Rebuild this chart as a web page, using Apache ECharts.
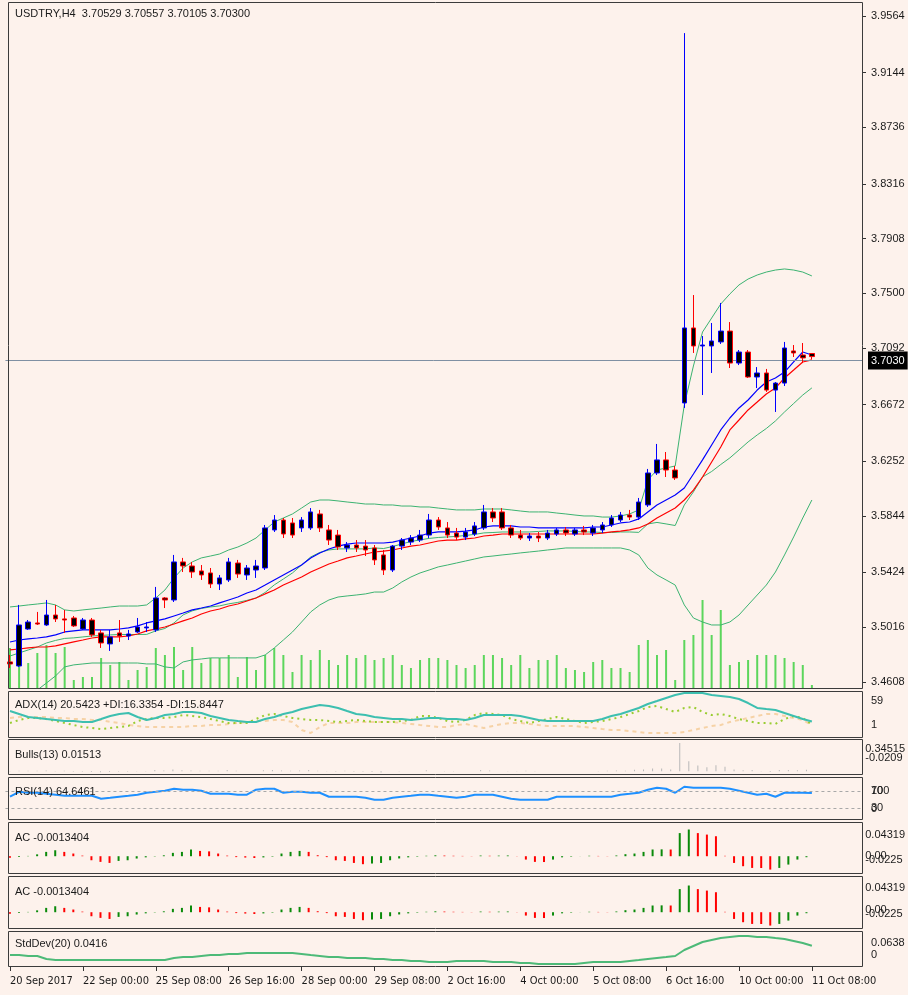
<!DOCTYPE html>
<html><head><meta charset="utf-8">
<script src="https://cdn.jsdelivr.net/npm/echarts@6/dist/echarts.min.js"></script>
<style>html,body{margin:0;padding:0;background:#FDF2EC;}#c{width:908px;height:995px;}</style>
</head><body><div id="c"></div>
<script>
// ---------- DATA ----------
const categories = [
"20 Sep 16:00","20 Sep 20:00",
"21 Sep 00:00","21 Sep 04:00","21 Sep 08:00","21 Sep 12:00","21 Sep 16:00","21 Sep 20:00",
"22 Sep 00:00","22 Sep 04:00","22 Sep 08:00","22 Sep 12:00","22 Sep 16:00","22 Sep 20:00",
"25 Sep 00:00","25 Sep 04:00","25 Sep 08:00","25 Sep 12:00","25 Sep 16:00","25 Sep 20:00",
"26 Sep 00:00","26 Sep 04:00","26 Sep 08:00","26 Sep 12:00","26 Sep 16:00","26 Sep 20:00",
"27 Sep 00:00","27 Sep 04:00","27 Sep 08:00","27 Sep 12:00","27 Sep 16:00","27 Sep 20:00",
"28 Sep 00:00","28 Sep 04:00","28 Sep 08:00","28 Sep 12:00","28 Sep 16:00","28 Sep 20:00",
"29 Sep 00:00","29 Sep 04:00","29 Sep 08:00","29 Sep 12:00","29 Sep 16:00","29 Sep 20:00",
"2 Oct 00:00","2 Oct 04:00","2 Oct 08:00","2 Oct 12:00","2 Oct 16:00","2 Oct 20:00",
"3 Oct 00:00","3 Oct 04:00","3 Oct 08:00","3 Oct 12:00","3 Oct 16:00","3 Oct 20:00",
"4 Oct 00:00","4 Oct 04:00","4 Oct 08:00","4 Oct 12:00","4 Oct 16:00","4 Oct 20:00",
"5 Oct 00:00","5 Oct 04:00","5 Oct 08:00","5 Oct 12:00","5 Oct 16:00","5 Oct 20:00",
"6 Oct 00:00","6 Oct 04:00","6 Oct 08:00","6 Oct 12:00","6 Oct 16:00","6 Oct 20:00",
"9 Oct 00:00","9 Oct 04:00","9 Oct 08:00","9 Oct 12:00","9 Oct 16:00","9 Oct 20:00",
"10 Oct 00:00","10 Oct 04:00","10 Oct 08:00","10 Oct 12:00","10 Oct 16:00","10 Oct 20:00",
"11 Oct 00:00","11 Oct 04:00","11 Oct 08:00"];
const timeTickLabels = ["20 Sep 2017","22 Sep 00:00","25 Sep 08:00","26 Sep 16:00","28 Sep 00:00","29 Sep 08:00","2 Oct 16:00","4 Oct 00:00","5 Oct 08:00","6 Oct 16:00","10 Oct 00:00","11 Oct 08:00"];
const priceTicks = [3.9564,3.9144,3.8736,3.8316,3.7908,3.7500,3.7092,3.6672,3.6252,3.5844,3.5424,3.5016,3.4608];

const opens = [3.4758,3.4728,3.5003,3.5048,3.5033,3.5107,3.5078,3.5085,3.5003,3.5070,
3.4974,3.4892,3.4974,3.4951,3.4981,3.5011,3.4996,3.5234,3.5219,3.5502,
3.5472,3.5435,3.5420,3.5338,3.5368,3.5494,3.5405,3.5442,3.5457,3.5740,
3.5814,3.5792,3.5755,3.5755,3.5859,3.5740,3.5702,3.5606,3.5628,3.5620,
3.5606,3.5554,3.5442,3.5620,3.5650,3.5665,3.5702,3.5814,3.5755,3.5717,
3.5687,3.5710,3.5755,3.5874,3.5874,3.5755,3.5702,3.5680,3.5695,3.5680,
3.5710,3.5740,3.5710,3.5740,3.5717,3.5740,3.5777,3.5814,3.5851,3.5836,
3.5926,3.6164,3.6261,3.6186,3.6685,3.7243,3.7109,3.7109,3.7139,3.7220,
3.6982,3.7064,3.6878,3.6908,3.6781,3.6833,3.7072,3.7042,3.70529];
const highs = [3.4810,3.5182,3.5070,3.5130,3.5219,3.5182,3.5145,3.5100,3.5085,3.5085,
3.4996,3.4996,3.5070,3.4996,3.5085,3.5055,3.5316,3.5241,3.5554,3.5532,
3.5502,3.5479,3.5457,3.5405,3.5532,3.5517,3.5479,3.5517,3.5777,3.5851,
3.5829,3.5829,3.5836,3.5903,3.5889,3.5777,3.5740,3.5650,3.5665,3.5665,
3.5628,3.5591,3.5628,3.5680,3.5702,3.5740,3.5859,3.5836,3.5799,3.5755,
3.5755,3.5799,3.5926,3.5903,3.5903,3.5777,3.5740,3.5717,3.5725,3.5740,
3.5755,3.5762,3.5755,3.5770,3.5777,3.5799,3.5851,3.5874,3.5889,3.5978,
3.6194,3.6380,3.6320,3.6216,3.9437,3.7488,3.7183,3.7280,3.7429,3.7287,
3.7079,3.7079,3.6952,3.6938,3.6841,3.7139,3.7116,3.7131,3.70557];
const lows = [3.4713,3.4720,3.4996,3.5033,3.5026,3.5055,3.4974,3.5018,3.4996,3.4944,
3.4862,3.4840,3.4907,3.4921,3.4974,3.4981,3.4981,3.5159,3.5204,3.5427,
3.5383,3.5368,3.5308,3.5293,3.5353,3.5383,3.5368,3.5383,3.5442,3.5725,
3.5680,3.5680,3.5725,3.5740,3.5725,3.5628,3.5591,3.5576,3.5576,3.5546,
3.5479,3.5405,3.5427,3.5591,3.5628,3.5650,3.5680,3.5740,3.5680,3.5665,
3.5665,3.5695,3.5740,3.5799,3.5740,3.5680,3.5665,3.5658,3.5650,3.5665,
3.5695,3.5695,3.5695,3.5702,3.5695,3.5717,3.5762,3.5799,3.5814,3.5814,
3.5911,3.6149,3.6134,3.6112,3.6648,3.7057,3.6744,3.6908,3.7124,3.6945,
3.6967,3.6871,3.6796,3.6767,3.6618,3.6811,3.7027,3.6982,3.70105];
const closes = [3.4743,3.5033,3.5055,3.5040,3.5107,3.5078,3.5070,3.5026,3.5070,3.4959,
3.4899,3.4944,3.4951,3.4966,3.5018,3.5018,3.5234,3.5219,3.5502,3.5472,
3.5427,3.5405,3.5338,3.5383,3.5502,3.5412,3.5457,3.5472,3.5755,3.5814,
3.5710,3.5702,3.5814,3.5874,3.5755,3.5665,3.5613,3.5628,3.5606,3.5591,
3.5517,3.5442,3.5620,3.5665,3.5680,3.5702,3.5814,3.5762,3.5702,3.5687,
3.5725,3.5770,3.5874,3.5829,3.5755,3.5702,3.5680,3.5695,3.5680,3.5717,
3.5740,3.5717,3.5740,3.5725,3.5755,3.5777,3.5829,3.5851,3.5836,3.5948,
3.6164,3.6261,3.6186,3.6127,3.7243,3.7109,3.7116,3.7146,3.7220,3.6982,
3.7064,3.6878,3.6908,3.6781,3.6833,3.7094,3.7057,3.7020,3.70300];

const volumes = [400,450,250,350,430,350,410,80,110,110,
300,230,260,80,180,210,400,330,410,180,
410,250,300,300,330,110,310,180,330,400,
330,160,330,280,380,280,230,330,300,330,
280,300,330,230,200,280,300,300,280,230,
200,230,330,330,300,230,330,200,280,280,
330,200,180,160,260,280,200,200,160,430,
480,330,380,80,480,530,880,530,780,230,
260,280,330,330,330,300,260,230,30];

const bbUpper = [3.5167,3.5174,3.5182,3.5189,3.5197,3.5182,3.5145,3.5137,3.5145,3.5152,
3.5159,3.5167,3.5174,3.5174,3.5174,3.5182,3.5234,3.5293,3.5383,3.5457,
3.5502,3.5532,3.5546,3.5561,3.5591,3.5613,3.5643,3.5680,3.5740,3.5799,
3.5829,3.5859,3.5903,3.5948,3.5963,3.5963,3.5956,3.5948,3.5941,3.5933,
3.5933,3.5926,3.5926,3.5918,3.5918,3.5911,3.5911,3.5903,3.5896,3.5889,
3.5889,3.5889,3.5896,3.5896,3.5896,3.5889,3.5881,3.5874,3.5874,3.5874,
3.5866,3.5859,3.5851,3.5844,3.5844,3.5836,3.5836,3.5844,3.5859,3.5889,
3.6112,3.6186,3.6201,3.6216,3.6670,3.6960,3.7213,3.7317,3.7421,3.7496,
3.7563,3.7607,3.7637,3.7659,3.7674,3.7682,3.7674,3.7659,3.7630];
const bbMiddle = [3.4802,3.4825,3.4847,3.4869,3.4899,3.4918,3.4933,3.4937,3.4944,3.4951,
3.4955,3.4959,3.4962,3.4962,3.4962,3.4963,3.4989,3.5007,3.5048,3.5108,
3.5138,3.5156,3.5167,3.5175,3.5190,3.5201,3.5216,3.5234,3.5275,3.5331,
3.5375,3.5420,3.5479,3.5539,3.5573,3.5591,3.5599,3.5599,3.5599,3.5599,
3.5606,3.5602,3.5617,3.5636,3.5654,3.5666,3.5677,3.5684,3.5688,3.5692,
3.5699,3.5707,3.5718,3.5721,3.5725,3.5725,3.5725,3.5725,3.5729,3.5733,
3.5732,3.5733,3.5729,3.5725,3.5725,3.5721,3.5721,3.5725,3.5725,3.5722,
3.5785,3.5796,3.5785,3.5773,3.5926,3.6023,3.6134,3.6175,3.6227,3.6276,
3.6335,3.6395,3.6447,3.6495,3.6551,3.6618,3.6681,3.6744,3.6797];
const bbLower = [3.4437,3.4475,3.4512,3.4549,3.4601,3.4654,3.4721,3.4736,3.4743,3.4750,
3.4750,3.4750,3.4750,3.4750,3.4750,3.4743,3.4743,3.4721,3.4713,3.4758,
3.4773,3.4780,3.4788,3.4788,3.4788,3.4788,3.4788,3.4788,3.4810,3.4862,
3.4921,3.4981,3.5055,3.5130,3.5182,3.5219,3.5241,3.5249,3.5256,3.5264,
3.5278,3.5278,3.5308,3.5353,3.5390,3.5420,3.5442,3.5465,3.5479,3.5494,
3.5509,3.5524,3.5539,3.5546,3.5554,3.5561,3.5569,3.5576,3.5583,3.5591,
3.5598,3.5606,3.5606,3.5606,3.5606,3.5606,3.5606,3.5606,3.5591,3.5554,
3.5457,3.5405,3.5368,3.5330,3.5182,3.5085,3.5055,3.5033,3.5033,3.5055,
3.5107,3.5182,3.5256,3.5330,3.5427,3.5554,3.5688,3.5829,3.5963];
const maFast = [3.4906,3.4921,3.4929,3.4936,3.4944,3.4959,3.4981,3.4989,3.4996,3.4996,
3.4996,3.4996,3.5003,3.5011,3.5026,3.5048,3.5063,3.5078,3.5100,3.5122,
3.5145,3.5159,3.5174,3.5197,3.5219,3.5241,3.5271,3.5293,3.5330,3.5368,
3.5405,3.5442,3.5479,3.5532,3.5569,3.5598,3.5620,3.5635,3.5643,3.5643,
3.5643,3.5643,3.5650,3.5665,3.5680,3.5695,3.5717,3.5725,3.5725,3.5725,
3.5732,3.5740,3.5762,3.5770,3.5770,3.5770,3.5762,3.5762,3.5755,3.5755,
3.5755,3.5755,3.5755,3.5755,3.5762,3.5762,3.5777,3.5792,3.5799,3.5822,
3.5874,3.5926,3.5963,3.6000,3.6052,3.6156,3.6261,3.6372,3.6484,3.6573,
3.6648,3.6707,3.6781,3.6841,3.6871,3.6915,3.6990,3.7064,3.7042];
const maSlow = [3.4847,3.4854,3.4862,3.4869,3.4869,3.4877,3.4892,3.4907,3.4921,3.4936,
3.4944,3.4944,3.4944,3.4951,3.4966,3.4989,3.5003,3.5018,3.5040,3.5063,
3.5085,3.5115,3.5137,3.5152,3.5174,3.5189,3.5211,3.5234,3.5264,3.5293,
3.5330,3.5360,3.5390,3.5427,3.5457,3.5487,3.5509,3.5532,3.5546,3.5561,
3.5576,3.5583,3.5591,3.5606,3.5620,3.5628,3.5643,3.5658,3.5665,3.5665,
3.5673,3.5680,3.5695,3.5702,3.5710,3.5710,3.5710,3.5710,3.5710,3.5710,
3.5710,3.5710,3.5710,3.5710,3.5710,3.5717,3.5725,3.5732,3.5740,3.5755,
3.5784,3.5829,3.5866,3.5903,3.5963,3.6037,3.6134,3.6246,3.6357,3.6484,
3.6558,3.6633,3.6692,3.6752,3.6796,3.6871,3.6930,3.6990,3.7005];

const adx = [34.7,30.7,26.6,25.3,23.9,22.6,21.2,21.2,19.9,19.9,
23.9,28.0,30.7,32.0,26.6,22.6,25.3,29.3,30.7,33.4,
33.4,32.0,28.0,25.3,22.6,21.2,19.9,19.9,23.9,26.6,
30.7,33.4,37.4,40.1,42.8,41.5,38.8,34.7,30.7,29.3,
26.6,25.3,23.9,23.9,22.6,23.9,25.3,25.3,23.9,23.9,
22.6,25.3,29.3,29.3,29.3,29.3,28.0,25.3,22.6,21.2,
21.2,21.2,21.2,21.2,21.2,23.9,28.0,30.7,34.7,38.8,
44.2,48.2,52.3,56.3,59.0,59.0,59.0,56.3,55.0,53.6,
50.9,45.5,38.8,37.4,36.1,32.0,28.0,23.9,20.5423];
const plusDI = [18.5,22.6,25.3,25.3,23.9,21.2,18.5,15.8,13.1,11.8,
10.4,11.8,13.1,14.5,21.2,23.9,25.3,25.3,26.6,29.3,
28.0,26.6,23.9,21.2,18.5,18.5,18.5,23.9,29.3,30.7,
28.0,25.3,23.9,22.6,22.6,21.2,19.9,21.2,22.6,21.2,
19.9,19.9,19.9,21.2,22.6,28.0,28.0,25.3,21.2,19.9,
22.6,29.3,32.0,30.7,29.3,23.9,21.2,18.5,21.2,23.9,
26.6,23.9,21.2,18.5,19.9,21.2,23.9,26.6,30.7,34.7,
40.1,41.5,37.4,33.4,38.8,40.1,33.4,29.3,30.7,28.0,
23.9,21.2,18.5,18.5,17.2,23.9,28.0,25.3,16.3354];
const minusDI = [25.3,26.6,26.6,26.6,26.6,25.3,25.3,23.9,23.9,22.6,
22.6,19.9,18.5,15.8,14.5,13.1,13.1,13.1,13.1,13.1,
14.5,14.5,15.8,15.8,17.2,18.5,19.9,21.2,21.2,22.6,
22.6,19.9,9.1,5.0,13.1,18.5,18.5,18.5,19.9,19.9,
19.9,19.9,19.9,18.5,17.2,15.8,14.5,13.1,13.1,15.8,
17.2,14.5,11.8,14.5,17.2,18.5,18.5,17.2,15.8,14.5,
14.5,14.5,14.5,13.1,11.8,10.4,9.1,9.1,7.7,6.4,
5.0,5.0,5.0,5.0,6.4,9.1,11.8,14.5,15.8,19.9,
22.6,25.3,28.0,30.7,30.7,28.0,25.3,22.6,15.8447];

const bulls = [-0.005,0.006,0.006,0.006,0.008,-0.005,0.006,-0.008,-0.006,-0.01,
-0.012,-0.01,-0.006,-0.008,-0.004,-0.004,0.012,0.008,0.02,0.01,
0.008,0.006,0.004,0.004,0.012,0.006,-0.002,-0.002,0.01,0.012,
0.008,0.006,0.008,0.012,0.006,-0.004,-0.008,0.004,-0.006,-0.006,
-0.01,-0.014,-0.002,0.002,-0.002,-0.002,0.01,-0.002,-0.004,-0.004,
-0.002,-0.001,0.012,0.008,-0.002,-0.004,-0.004,0.006,-0.004,-0.002,
-0.001,-0.002,-0.001,-0.002,-0.001,0.002,0.006,0.008,0.006,0.016,
0.02,0.03,0.03,0.02,0.322,0.114,0.065,0.046,0.069,0.05,
0.02,0.01,0.012,-0.004,-0.01,0.012,0.012,0.01,0.01513];

const rsi = [55.9,67.6,65.3,65.3,62.9,60.6,58.2,58.2,58.2,58.2,
51.2,53.5,55.9,58.2,60.6,65.3,67.6,70.0,74.7,72.4,
72.4,70.0,62.9,62.9,62.9,60.6,60.6,72.4,74.7,74.7,
65.3,67.6,67.6,65.3,65.3,55.9,55.9,55.9,55.9,53.5,
48.8,48.8,53.5,55.9,58.2,60.6,60.6,58.2,55.9,53.5,
55.9,60.6,60.6,60.6,55.9,51.2,48.8,48.8,48.8,48.8,
55.9,55.9,55.9,55.9,55.9,55.9,55.9,60.6,62.9,65.3,
72.4,77.1,74.7,65.3,79.4,77.1,77.1,77.1,77.1,74.7,
70.0,65.3,60.6,62.9,55.9,65.3,65.3,65.3,64.6461];
const rsiLevels = [70, 30];

const ac = [-0.002,-0.001,0.0004,0.0025,0.0058,0.008,0.0058,0.0036,0.0008,-0.0054,
-0.0076,-0.009,-0.0063,-0.0054,-0.0031,-0.0015,-0.0004,0.0012,0.0045,0.0058,
0.009,0.0071,0.0065,0.0036,0.0008,-0.0012,-0.0018,-0.0024,-0.0016,-0.0006,
0.0036,0.0058,0.0071,0.0058,0.0013,-0.0012,-0.0054,-0.0063,-0.009,-0.0107,
-0.0098,-0.009,-0.0054,-0.003,-0.0015,-0.0006,0.0006,0.0012,0.0009,0.0006,
0.0004,0.0002,0.0009,0.0006,0.0008,0.001,-0.0002,-0.0045,-0.0076,-0.0078,
-0.0045,-0.0015,-0.0006,0.0001,0.0006,0.0004,0.0002,0.001,0.0027,0.0036,
0.0058,0.009,0.0092,0.009,0.031,0.0358,0.031,0.029,0.0268,0.0005,
-0.009,-0.0134,-0.0157,-0.0158,-0.0179,-0.0157,-0.0112,-0.0045,-0.0013404];

const stdDev = [0.0226,0.0226,0.0206,0.0206,0.0144,0.0123,0.0123,0.0123,0.0123,0.0123,
0.0123,0.0123,0.0123,0.0123,0.0123,0.0123,0.0123,0.0123,0.0165,0.0185,
0.0185,0.0206,0.0226,0.0226,0.0247,0.0247,0.0268,0.0268,0.0268,0.0268,
0.0268,0.0268,0.0247,0.0226,0.0206,0.0185,0.0185,0.0165,0.0165,0.0165,
0.0144,0.0144,0.0123,0.0123,0.0103,0.0103,0.0082,0.0082,0.0082,0.0103,
0.0103,0.0103,0.0103,0.0082,0.0082,0.0082,0.0062,0.0062,0.0041,0.0041,
0.0041,0.0041,0.0041,0.0062,0.0082,0.0082,0.0082,0.0082,0.0103,0.0123,
0.0144,0.0165,0.0185,0.0206,0.0329,0.0412,0.0494,0.0535,0.0576,0.0597,
0.0617,0.0617,0.0597,0.0597,0.0576,0.0556,0.0515,0.0473,0.0416];

// panel scale labels (as printed on the right side of each sub-window)
const adxScale = [59, 1];
const bullsScale = [0.34515, -0.0209];
const rsiScale = [100, 70, 30, 0];
const acScale = [0.04319, 0, -0.0225];
const stdScale = [0.0638, 0];

const panelTitles = ["USDTRY,H4  3.70529 3.70557 3.70105 3.70300",
"ADX(14) 20.5423 +DI:16.3354 -DI:15.8447","Bulls(13) 0.01513","RSI(14) 64.6461",
"AC -0.0013404","AC -0.0013404","StdDev(20) 0.0416"];

// ---------- CHART ----------
const FONT = "'Liberation Sans', Arial, sans-serif";
const NARROW = "'Liberation Sans Narrow', 'DejaVu Sans Condensed', 'Liberation Sans', sans-serif";
const TXT = '#1a1a1a';
const N = categories.length;
const axisCats = categories.concat(['', '', '', '', '']);
const grids = [
  {top:3, height:685}, {top:693, height:43}, {top:741, height:32}, {top:778, height:42.5},
  {top:824, height:49}, {top:880, height:49}, {top:935, height:31}
].map(g => Object.assign({left:5.44, right:46}, g));
const frames = [[8,2,854,686],[8,691,854,46],[8,739,854,35],[8,777,854,42],[8,822,854,51],[8,876,854,52],[8,931,854,35]];
const titleY = [8, 699, 749, 786, 832, 886, 938];

const isTick = i => i % 8 === 0 && i < N;
const xAxis = grids.map((g, k) => ({
  type:'category', gridIndex:k, data:axisCats, boundaryGap:true,
  axisLine:{show:false}, splitLine:{show:false},
  axisTick: k === 6 ? {show:true, alignWithLabel:true, interval:(i)=>isTick(i), length:5, lineStyle:{color:'#333'}} : {show:false},
  axisLabel: k === 6 ? {show:true, interval:(i)=>isTick(i), formatter:(v,i)=>timeTickLabels[i/8] || '', align:'left',
    margin:10, fontSize:11, fontFamily:NARROW, color:TXT} : {show:false}
}));

const yAxis = [
  {type:'value', gridIndex:0, position:'right', min:3.4564, max:3.9661,
   splitLine:{show:false}, axisLine:{show:false},
   axisTick:{show:true, customValues:priceTicks, length:4, lineStyle:{color:'#333'}},
   axisLabel:{customValues:priceTicks, formatter:v=>v.toFixed(4), margin:9, fontSize:11, fontFamily:FONT, color:TXT,
     showMinLabel:true, showMaxLabel:true}},
  {type:'value', gridIndex:0, min:0, max:6850, show:false}
];
// one label-axis per printed scale value, so overlapping MT4-style labels are all kept
function addPanelAxes(gridIndex, ticks, shifts, zeroText) {
  const first = yAxis.length;
  const min = Math.min(...ticks), max = Math.max(...ticks);
  ticks.forEach((t, k) => {
    const s = shifts[k];
    const txt = (t === 0 && zeroText) ? zeroText : String(t);
    yAxis.push({type:'value', gridIndex, min, max, position:'right', offset:0,
      splitLine:{show:false}, axisLine:{show:false}, axisTick:{show:false},
      axisLabel:{customValues:[t], margin:9, showMinLabel:true, showMaxLabel:true,
        formatter:()=>'{p|'+txt+'}',
        rich:{p:{fontSize:11, fontFamily:FONT, color:TXT, padding: s >= 0 ? [2*s,0,0,0] : [0,0,-2*s,0]}}}});
  });
  return first;
}
const yADX = addPanelAxes(1, adxScale, [8,-11]);
const yBulls = addPanelAxes(2, bullsScale, [8,-15]);
const yRSI = addPanelAxes(3, rsiScale, [13,0,0,-12]);
const yAC1 = addPanelAxes(4, acScale, [11,0,-13], '0.00');
const yAC2 = addPanelAxes(5, acScale, [8,-2,-15], '0.00');
const yStd = addPanelAxes(6, stdScale, [8,-11]);

const line = (data, xi, yi, color, width, type, z) => ({
  type:'line', data, xAxisIndex:xi, yAxisIndex:yi, symbol:'none', silent:true, animation:false,
  lineStyle:{color, width, type: type || 'solid'}, z: z || 2});

const acColor = (p) => (p.dataIndex > 0 && ac[p.dataIndex] > ac[p.dataIndex-1]) ? '#0A8A0A' : '#FF0000';

const series = [
  {type:'bar', data:volumes, xAxisIndex:0, yAxisIndex:1, barWidth:2, silent:true, itemStyle:{color:'#5CD65C'}, z:1},
  line(bbUpper, 0, 0, '#3CB371', 1),
  line(bbMiddle, 0, 0, '#3CB371', 1),
  line(bbLower, 0, 0, '#3CB371', 1),
  line(maFast, 0, 0, '#0000FF', 1.2, 'solid', 3),
  line(maSlow, 0, 0, '#FF0000', 1.2, 'solid', 3),
  {type:'candlestick', xAxisIndex:0, yAxisIndex:0, barWidth:5, z:5,
   data: opens.map((o,i)=>[o, closes[i], lows[i], highs[i]]),
   itemStyle:{color:'#000', color0:'#000', borderColor:'#0000FF', borderColor0:'#FF0000', borderWidth:1},
   markLine:{silent:true, symbol:['none','none'], animation:false,
     lineStyle:{color:'#7F90A3', width:1, type:'solid'},
     label:{position:'end', distance:6, formatter:()=>closes[N-1].toFixed(4), backgroundColor:'#000', color:'#fff',
       padding:[4,3,3,3], fontSize:11, fontFamily:FONT},
     data:[{yAxis:closes[N-1]}]}},
  line(minusDI, 1, yADX, '#F6D2A6', 2, [4,4]),
  line(plusDI, 1, yADX, '#9ACD32', 2, [2,4]),
  line(adx, 1, yADX, '#3DBFB0', 2, 'solid', 3),
  {type:'bar', data:bulls, xAxisIndex:2, yAxisIndex:yBulls, barWidth:1, silent:true, itemStyle:{color:'#B8B8B8'}},
  Object.assign(line(rsi, 3, yRSI, '#1E90FF', 2), {
    markLine:{silent:true, symbol:['none','none'], animation:false, label:{show:false},
      lineStyle:{color:'#A8A8A8', width:1, type:[3,3]}, data: rsiLevels.map(v=>({yAxis:v}))}}),
  {type:'bar', data:ac, xAxisIndex:4, yAxisIndex:yAC1, barWidth:2, silent:true, itemStyle:{color:acColor}},
  {type:'bar', data:ac, xAxisIndex:5, yAxisIndex:yAC2, barWidth:2, silent:true, itemStyle:{color:acColor}},
  line(stdDev, 6, yStd, '#4DBA78', 2)
];

const graphic = frames.map(f => ({type:'rect', silent:true, z:100,
  shape:{x:f[0]+0.5, y:f[1]+0.5, width:f[2], height:f[3]},
  style:{fill:'none', stroke:'#3C3C3C', lineWidth:1}}))
 .concat(panelTitles.map((t,k) => ({type:'text', silent:true, z:101, left:15, top:titleY[k],
  style:{text:t, font:"11px 'Liberation Sans', Arial, sans-serif", fill:TXT}})));

const chart = echarts.init(document.getElementById('c'));
chart.setOption({
  animation:false, backgroundColor:'#FDF2EC',
  grid:grids, xAxis, yAxis, series, graphic
});
</script>
</body></html>
